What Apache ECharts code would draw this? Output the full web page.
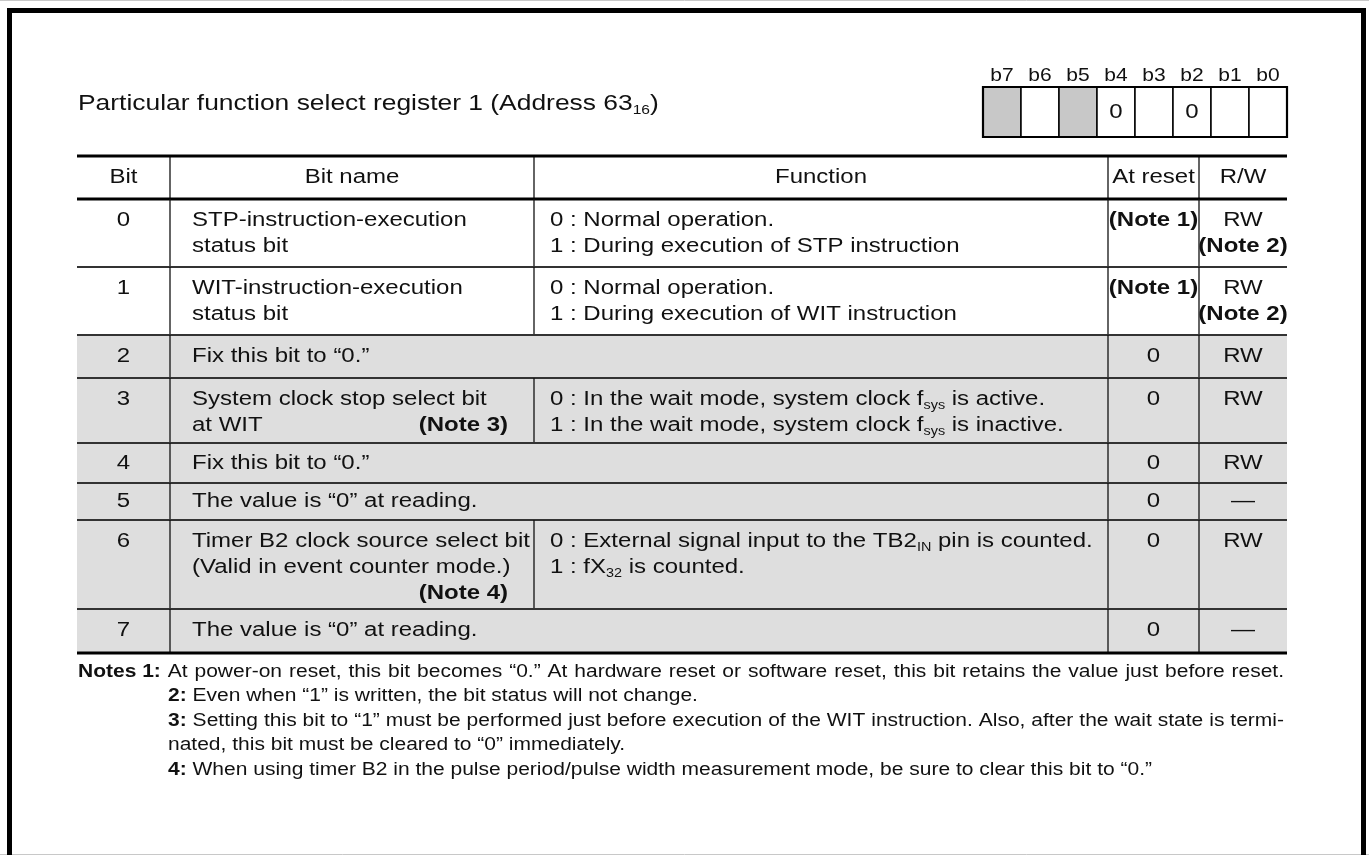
<!DOCTYPE html>
<html>
<head>
<meta charset="utf-8">
<script src="https://cdn.jsdelivr.net/npm/echarts@6/dist/echarts.min.js"></script>
<style>
html,body{margin:0;padding:0;background:#fff;}
#c{width:1369px;height:855px;}
</style>
</head>
<body>
<div id="c"></div>
<script>
// ---------------- data ----------------
const titleText = 'Particular function select register 1 (Address 63{sub|16})';

const registerBitLabels = ['b7', 'b6', 'b5', 'b4', 'b3', 'b2', 'b1', 'b0'];
const registerBitValues = ['', '', '', '0', '', '0', '', ''];
const registerBitFixed = [true, false, true, false, false, false, false, false];

const tableHeaders = ['Bit', 'Bit name', 'Function', 'At reset', 'R/W'];

const bitNumbers = ['0', '1', '2', '3', '4', '5', '6', '7'];

const bitNameLines = [
  ['STP-instruction-execution', 'status bit'],
  ['WIT-instruction-execution', 'status bit'],
  ['Fix this bit to \u201c0.\u201d'],
  ['System clock stop select bit', 'at WIT'],
  ['Fix this bit to \u201c0.\u201d'],
  ['The value is \u201c0\u201d at reading.'],
  ['Timer B2 clock source select bit', '(Valid in event counter mode.)'],
  ['The value is \u201c0\u201d at reading.']
];

const bitNameNotes = [null, null, null, { text: '(Note 3)', line: 1 }, null, null, { text: '(Note 4)', line: 2 }, null];

const functionLines = [
  ['0 : Normal operation.', '1 : During execution of STP instruction'],
  ['0 : Normal operation.', '1 : During execution of WIT instruction'],
  null,
  ['0 : In the wait mode, system clock f{sub|sys} is active.', '1 : In the wait mode, system clock f{sub|sys} is inactive.'],
  null,
  null,
  ['0 : External signal input to the TB2{sub|IN} pin is counted.', '1 : fX{sub|32} is counted.'],
  null
];

const atResetValues = ['(Note 1)', '(Note 1)', '0', '0', '0', '0', '0', '0'];
const rwValues = [['RW', '(Note 2)'], ['RW', '(Note 2)'], ['RW'], ['RW'], ['RW'], ['\u2014'], ['RW'], ['\u2014']];
const rowShaded = [false, false, true, true, true, true, true, true];

const noteLabels = ['Notes 1:', '2:', '3:', '4:'];
const noteTexts = [
  ['At power-on reset, this bit becomes \u201c0.\u201d At hardware reset or software reset, this bit retains the value just before reset.'],
  ['Even when \u201c1\u201d is written, the bit status will not change.'],
  ['Setting this bit to \u201c1\u201d must be performed just before execution of the WIT instruction. Also, after the wait state is termi-',
   'nated, this bit must be cleared to \u201c0\u201d immediately.'],
  ['When using timer B2 in the pulse period/pulse width measurement mode, be sure to clear this bit to \u201c0.\u201d']
];

// ---------------- layout & style ----------------
const W = 1369, H = 855;
const FONT = '"Liberation Sans", Arial, Helvetica, sans-serif';
const SX = 1.2;            // horizontal stretch of the printed text
const INK = '#111';
const L = {
  title: { x: 78, y: 104, size: 22 },
  reg: { x: 983, y: 87, cellW: 38, cellH: 50, labelY: 76, labelSize: 17.5, valueSize: 20 },
  cols: [77, 170, 534, 1108, 1199, 1287],
  rows: [156, 199, 267, 335, 378, 443, 483, 520, 609, 653],
  size: 20, gap: 26, namePad: 22, funcPad: 16, noteRight: 508,
  notes: { x0: 78, x1: 168, right: 1284, y0: 672, gap: 24.5, size: 17.5 }
};

function richFor(size) {
  return {
    sub: { fontSize: Math.round(size * 0.6), lineHeight: 12, verticalAlign: 'bottom', fontFamily: FONT, fill: INK },
    b: { fontSize: size, fontWeight: 'bold', lineHeight: 26, fontFamily: FONT, fill: INK }
  };
}
function txt(api, x, y, text, o) {
  o = o || {};
  const p = api.coord([x, y]);
  const size = o.size || L.size;
  return {
    type: 'text', x: p[0], y: p[1], scaleX: SX,
    style: {
      text: text, fill: INK, fontFamily: FONT, fontSize: size,
      fontWeight: o.bold ? 'bold' : 'normal', lineHeight: 26,
      align: o.align || 'left', verticalAlign: 'middle', rich: richFor(size)
    }
  };
}
function seg(api, x1, y1, x2, y2, w, c) {
  const a = api.coord([x1, y1]), b = api.coord([x2, y2]);
  return { type: 'line', shape: { x1: a[0], y1: a[1], x2: b[0], y2: b[1] }, style: { stroke: c, lineWidth: w } };
}
function box(api, x1, y1, x2, y2, fill, stroke, w) {
  const a = api.coord([x1, y1]), b = api.coord([x2, y2]);
  return { type: 'rect', shape: { x: a[0], y: a[1], width: b[0] - a[0], height: b[1] - a[1] },
           style: { fill: fill, stroke: stroke || null, lineWidth: w || 0 } };
}
const isNote = s => s.charAt(0) === '(' && s.indexOf('Note') === 1;

// text measuring for the justified notes block
const mctx = document.createElement('canvas').getContext('2d');
function measure(s, size, bold) {
  mctx.font = (bold ? 'bold ' : '') + size + 'px ' + FONT;
  return mctx.measureText(s).width * SX;
}

const C = L.cols, R = L.rows;

const option = {
  animation: false,
  backgroundColor: '#fff',
  grid: { left: 0, right: 0, top: 0, bottom: 0, containLabel: false },
  xAxis: { type: 'value', min: 0, max: W, show: false },
  yAxis: { type: 'value', min: 0, max: H, inverse: true, show: false },
  graphic: [
    { type: 'line', shape: { x1: 0, y1: 0.5, x2: W, y2: 0.5 }, style: { stroke: '#c8c8c8', lineWidth: 1 }, z: 1 },
    { type: 'line', shape: { x1: 0, y1: 854.5, x2: W, y2: 854.5 }, style: { stroke: '#c8c8c8', lineWidth: 1 }, z: 1 },
    { type: 'rect', shape: { x: 9.5, y: 10.5, width: 1354, height: 900 }, style: { fill: null, stroke: '#000', lineWidth: 5 }, z: 10 }
  ],
  series: [
    { // title
      type: 'custom', coordinateSystem: 'cartesian2d', clip: false, silent: true,
      data: [[0, 0]],
      renderItem: function (params, api) {
        return txt(api, L.title.x, L.title.y, titleText, { size: L.title.size });
      }
    },
    { // register bit cells
      type: 'custom', coordinateSystem: 'cartesian2d', clip: false, silent: true,
      data: registerBitLabels.map((b, i) => [i, 0]),
      renderItem: function (params, api) {
        const i = params.dataIndex, g = L.reg;
        const x1 = g.x + i * g.cellW, x2 = x1 + g.cellW;
        const ch = [box(api, x1, g.y, x2, g.y + g.cellH, registerBitFixed[i] ? '#c8c8c8' : '#fff', '#000', 1.5)];
        ch.push(txt(api, (x1 + x2) / 2, g.labelY, registerBitLabels[i], { size: g.labelSize, align: 'center' }));
        if (registerBitValues[i]) ch.push(txt(api, (x1 + x2) / 2, g.y + g.cellH / 2, registerBitValues[i], { size: g.valueSize, align: 'center' }));
        return { type: 'group', children: ch };
      }
    },
    { // register outer border
      type: 'custom', coordinateSystem: 'cartesian2d', clip: false, silent: true, z: 3,
      data: [[0, 0]],
      renderItem: function (params, api) {
        const g = L.reg;
        return box(api, g.x, g.y, g.x + g.cellW * registerBitLabels.length, g.y + g.cellH, null, '#000', 2.2);
      }
    },
    { // table header
      type: 'custom', coordinateSystem: 'cartesian2d', clip: false, silent: true,
      data: [[0, 0]],
      renderItem: function (params, api) {
        const top = R[0], bot = R[1], ch = [];
        [C[1], C[2], C[3], C[4]].forEach(x => ch.push(seg(api, x, top, x, bot, 1.3, INK)));
        tableHeaders.forEach((h, k) => ch.push(txt(api, (C[k] + C[k + 1]) / 2, (top + bot) / 2, h, { align: 'center' })));
        ch.push(seg(api, C[0], top, C[5], top, 3, '#000'));
        ch.push(seg(api, C[0], bot, C[5], bot, 3, '#000'));
        return { type: 'group', children: ch };
      }
    },
    { // table rows
      type: 'custom', coordinateSystem: 'cartesian2d', clip: false, silent: true,
      data: bitNumbers.map((b, i) => [i, 0]),
      renderItem: function (params, api) {
        const i = params.dataIndex;
        const top = R[i + 1], bot = R[i + 2], h = bot - top;
        const merged = functionLines[i] === null;
        const last = i === bitNumbers.length - 1;
        const ch = [];
        if (rowShaded[i]) ch.push(box(api, C[0], top + 1, C[5], bot, '#dedede'));
        const vx = merged ? [C[1], C[3], C[4]] : [C[1], C[2], C[3], C[4]];
        vx.forEach(x => ch.push(seg(api, x, top, x, bot, 1.3, INK)));
        const y0 = top + Math.min(21, h / 2);
        ch.push(txt(api, (C[0] + C[1]) / 2, y0, bitNumbers[i], { align: 'center' }));
        bitNameLines[i].forEach((s, k) => ch.push(txt(api, C[1] + L.namePad, y0 + k * L.gap, s)));
        const nn = bitNameNotes[i];
        if (nn) ch.push(txt(api, L.noteRight, y0 + nn.line * L.gap, nn.text, { bold: true, align: 'right' }));
        if (!merged) functionLines[i].forEach((s, k) => ch.push(txt(api, C[2] + L.funcPad, y0 + k * L.gap, s)));
        ch.push(txt(api, (C[3] + C[4]) / 2, y0, atResetValues[i], { align: 'center', bold: isNote(atResetValues[i]) }));
        rwValues[i].forEach((s, k) => ch.push(txt(api, (C[4] + C[5]) / 2, y0 + k * L.gap, s, { align: 'center', bold: isNote(s) })));
        const nextMultiLine = !last && bitNameLines[i].length > 2;
        ch.push(seg(api, C[0] + (nextMultiLine ? 3 : 0), bot, C[5], bot, last ? 3 : 1.8, last ? '#000' : '#333'));
        return { type: 'group', children: ch };
      }
    },
    { // notes (justified block)
      type: 'custom', coordinateSystem: 'cartesian2d', clip: false, silent: true,
      data: noteLabels.map((n, i) => [i, 0]),
      renderItem: function (params, api) {
        const i = params.dataIndex, n = L.notes, ch = [];
        let lineIdx = 0;
        for (let k = 0; k < i; k++) lineIdx += noteTexts[k].length;
        noteTexts[i].forEach((s, k) => {
          const x0 = (i === 0 && k === 0) ? n.x0 : n.x1;
          const y = n.y0 + (lineIdx + k) * n.gap;
          const tokens = s.split(' ').map(w => ({ t: w, bold: false }));
          if (k === 0) tokens.unshift({ t: noteLabels[i], bold: true });
          tokens.forEach(tk => { tk.w = measure(tk.t, n.size, tk.bold); });
          const sum = tokens.reduce((a, tk) => a + tk.w, 0);
          const sp = measure(' ', n.size, false);
          const avail = n.right - x0;
          const natural = sum + sp * (tokens.length - 1);
          const gapW = (natural > 0.95 * avail && natural < 1.03 * avail) ? (avail - sum) / (tokens.length - 1) : sp;
          let cx = x0;
          tokens.forEach(tk => {
            ch.push(txt(api, cx, y, tk.t, { size: n.size, bold: tk.bold }));
            cx += tk.w + gapW;
          });
        });
        return { type: 'group', children: ch };
      }
    }
  ]
};

const chart = echarts.init(document.getElementById('c'), null, { renderer: 'canvas', width: W, height: H });
chart.setOption(option);
</script>
</body>
</html>
